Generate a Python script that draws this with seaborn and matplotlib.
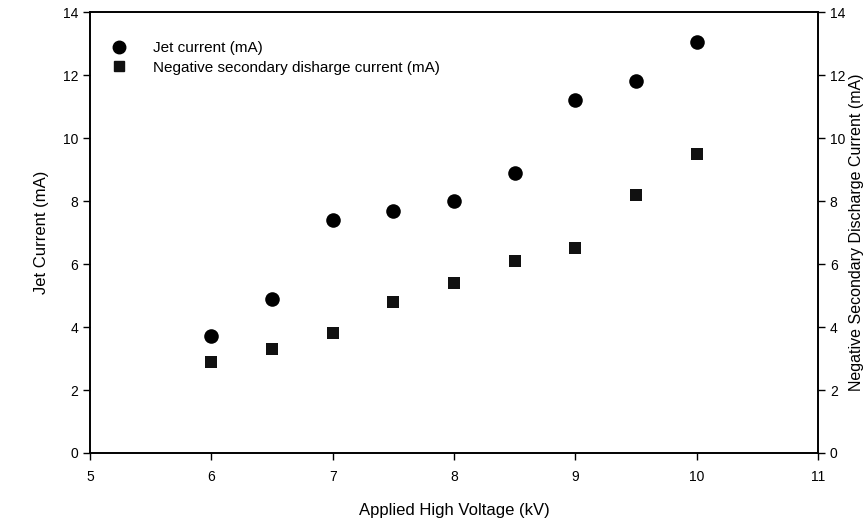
import matplotlib
matplotlib.use("Agg")
import matplotlib.pyplot as plt
import seaborn as sns
import pandas as pd
from matplotlib.lines import Line2D

voltage = [6, 6.5, 7, 7.5, 8, 8.5, 9, 9.5, 10]
jet_current = [3.7, 4.9, 7.4, 7.7, 8.0, 8.9, 11.2, 11.8, 13.05]
neg_current = [2.9, 3.3, 3.8, 4.8, 5.4, 6.1, 6.5, 8.2, 9.5]
x_ticks = [5, 6, 7, 8, 9, 10, 11]
y_ticks = [0, 2, 4, 6, 8, 10, 12, 14]

sns.set_theme(style="ticks")
plt.rcParams['font.family'] = ['Liberation Sans', 'DejaVu Sans']
plt.rcParams['text.color'] = 'black'
plt.rcParams['axes.labelcolor'] = 'black'
plt.rcParams['xtick.color'] = 'black'
plt.rcParams['ytick.color'] = 'black'

df = pd.DataFrame({"V": voltage, "jet": jet_current, "neg": neg_current})

fig = plt.figure(figsize=(8.68, 5.30), dpi=100)
ax = fig.add_axes([0.1037, 0.1453, 0.8387, 0.8317])
ax2 = ax.twinx()

sns.scatterplot(data=df, x="V", y="jet", ax=ax, marker="o", s=110, color="black",
                edgecolor="black", linewidth=0, legend=False)
sns.scatterplot(data=df, x="V", y="neg", ax=ax2, marker="s", s=75, color="#111111",
                edgecolor="black", linewidth=0, legend=False)

for a in (ax, ax2):
    a.set_ylim(0, 14)
    a.set_yticks(y_ticks)
    a.tick_params(axis="y", labelsize=10, length=5, width=1, colors="black")
ax.set_xlim(5, 11)
ax.set_xticks(x_ticks)
ax.tick_params(axis="x", labelsize=10, length=5, width=1, colors="black", pad=7)

ax.set_xlabel("Applied High Voltage (kV)", fontsize=12, labelpad=14)
ax.set_ylabel("Jet Current (mA)", fontsize=12, labelpad=10)
ax2.set_ylabel("Negative Secondary Discharge Current (mA)", fontsize=11.5, labelpad=3)

for a in (ax, ax2):
    for sp in a.spines.values():
        sp.set_color("black")
        sp.set_linewidth(1.2)

handles = [
    Line2D([], [], marker="o", linestyle="none", color="black", markersize=9),
    Line2D([], [], marker="s", linestyle="none", color="#111111", markersize=7),
]
ax.legend(handles, ["Jet current (mA)", "Negative secondary disharge current (mA)"],
          loc="upper left", bbox_to_anchor=(0.0, 0.965), frameon=False, fontsize=11,
          handletextpad=1.2, labelspacing=0.35)

fig.savefig("out.png", dpi=100)
